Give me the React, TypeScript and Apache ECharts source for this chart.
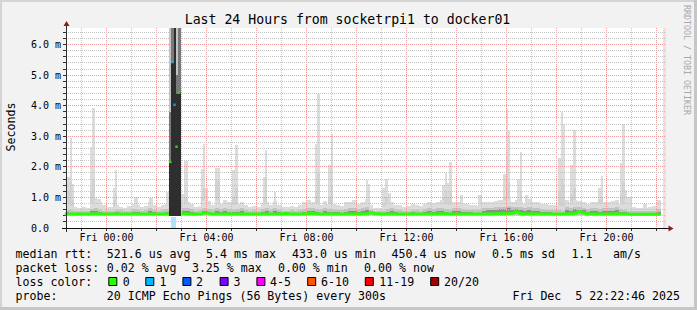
import React, { useEffect, useRef } from 'react';
import * as echarts from 'echarts';

// ---------- axes (hours relative to Fri 00:00, milliseconds on y) ----------
const X_MIN = -1.621; // Thu 22:22:46
const X_MAX = 22.379; // Fri 22:22:46
const Y_MAX = 6.545;
const NOW_BAND_START = 22.26;
const xLabelHours = [0, 4, 8, 12, 16, 20];
const hourGrid = [-1, 0, 1, 2, 3, 4, 5, 6, 7, 8, 9, 10, 11, 12, 13, 14, 15, 16, 17, 18, 19, 20, 21, 22];
const yLabels = [0, 1, 2, 3, 4, 5, 6];
const yGrid = [0.2, 0.4, 0.6, 0.8, 1, 1.2, 1.4, 1.6, 1.8, 2, 2.2, 2.4, 2.6, 2.8, 3, 3.2, 3.4, 3.6, 3.8, 4, 4.2, 4.4, 4.6, 4.8, 5, 5.2, 5.4, 5.6, 5.8, 6, 6.2, 6.4];

// ---------- base smoke, 10-minute steps starting Thu 22:20 ----------
const BASE_START_HOUR = -5 / 3;
const BASE_STEP_HOURS = 1 / 6;
const SMOKE_FLOOR = 0.4;
const baseHi = [
  0.78, 0.72, 0.68, 0.64, 0.70, 0.66, 0.82, 0.90, 0.84, 0.74,
  0.70, 0.68, 0.76, 0.70, 0.66, 0.72, 0.80, 0.74, 0.70, 0.72,
  0.84, 0.76, 0.70, 0.74, 0.80, null, null, null, 0.82, 0.86,
  0.78, 0.70, 0.72, 0.90, 0.86, 0.74, 0.90, 0.80, 0.92, 0.84,
  0.76, 0.80, 0.86, 0.74, 0.70, 0.72, 0.68, 0.82, 0.86, 0.74,
  0.88, 0.76, 0.70, 0.68, 0.72, 0.70, 0.74, 0.84, 0.90, 0.86,
  0.82, 0.74, 0.88, 0.80, 0.78, 0.76, 0.72, 0.84, 0.86, 0.92,
  0.80, 0.84, 0.94, 0.76, 0.66, 0.64, 0.72, 0.82, 0.86, 0.76,
  0.74, 0.70, 0.72, 0.78, 0.74, 0.72, 0.80, 0.84, 0.82, 0.86,
  0.90, 0.80, 0.74, 0.86, 0.84, 0.82, 0.78, 0.76, 0.74, 0.72,
  0.84, 0.86, 0.84, 0.88, 0.92, 0.90, 0.94, 0.86, 0.92, 0.88,
  0.80, 0.96, 0.86, 0.84, 0.80, 0.78, 0.76, 0.74, 0.72, 0.70,
  0.90, 0.86, 0.92, 0.88, 0.84, 0.80, 0.86, 0.84, 0.82, 0.86,
  0.84, 0.88, 0.92, 0.80, 0.78, 0.72, 0.68, 0.66, 0.64, 0.66,
  0.70, 0.72, 0.90,
];
const baseMid = [
  0.60, 0.58, 0.56, 0.55, 0.57, 0.56, 0.62, 0.64, 0.60, 0.57,
  0.56, 0.55, 0.60, 0.58, 0.56, 0.57, 0.62, 0.60, 0.56, 0.58,
  0.64, 0.60, 0.57, 0.58, 0.62, null, null, null, 0.64, 0.66,
  0.62, 0.57, 0.58, 0.64, 0.62, 0.58, 0.66, 0.62, 0.66, 0.62,
  0.60, 0.62, 0.64, 0.58, 0.56, 0.58, 0.56, 0.62, 0.64, 0.58,
  0.64, 0.60, 0.56, 0.55, 0.58, 0.57, 0.58, 0.62, 0.66, 0.64,
  0.62, 0.58, 0.64, 0.62, 0.60, 0.60, 0.58, 0.62, 0.64, 0.66,
  0.62, 0.64, 0.68, 0.60, 0.57, 0.55, 0.57, 0.62, 0.64, 0.60,
  0.58, 0.56, 0.57, 0.60, 0.58, 0.57, 0.62, 0.64, 0.62, 0.64,
  0.66, 0.62, 0.58, 0.64, 0.64, 0.62, 0.60, 0.60, 0.58, 0.58,
  0.64, 0.66, 0.66, 0.68, 0.70, 0.70, 0.72, 0.68, 0.70, 0.68,
  0.64, 0.70, 0.66, 0.64, 0.62, 0.60, 0.60, 0.58, 0.58, 0.57,
  0.68, 0.66, 0.70, 0.68, 0.66, 0.62, 0.66, 0.64, 0.62, 0.64,
  0.64, 0.66, 0.68, 0.62, 0.60, 0.57, 0.56, 0.55, 0.54, 0.55,
  0.56, 0.57, 0.62,
];
const baseDark = [
  0.52, 0.50, 0.49, 0.49, 0.50, 0.49, 0.54, 0.55, 0.52, 0.50,
  0.49, 0.49, 0.52, 0.50, 0.49, 0.50, 0.53, 0.52, 0.49, 0.50,
  0.54, 0.52, 0.50, 0.50, 0.53, null, null, null, 0.54, 0.55,
  0.52, 0.50, 0.50, 0.55, 0.53, 0.50, 0.56, 0.52, 0.55, 0.52,
  0.51, 0.52, 0.54, 0.50, 0.49, 0.50, 0.49, 0.52, 0.55, 0.50,
  0.54, 0.51, 0.49, 0.49, 0.50, 0.49, 0.50, 0.52, 0.56, 0.54,
  0.52, 0.50, 0.54, 0.52, 0.51, 0.51, 0.50, 0.52, 0.54, 0.56,
  0.52, 0.54, 0.58, 0.51, 0.49, 0.48, 0.49, 0.52, 0.54, 0.51,
  0.50, 0.49, 0.49, 0.51, 0.50, 0.49, 0.52, 0.54, 0.52, 0.54,
  0.56, 0.52, 0.50, 0.54, 0.54, 0.52, 0.51, 0.51, 0.50, 0.50,
  0.56, 0.58, 0.58, 0.60, 0.62, 0.62, 0.64, 0.60, 0.62, 0.58,
  0.54, 0.60, 0.56, 0.54, 0.52, 0.51, 0.51, 0.50, 0.50, 0.50,
  0.58, 0.57, 0.62, 0.60, 0.58, 0.53, 0.56, 0.54, 0.52, 0.54,
  0.54, 0.56, 0.58, 0.52, 0.51, 0.49, 0.49, 0.48, 0.48, 0.48,
  0.49, 0.49, 0.52,
];
const baseMedian = [
  0.46, 0.46, 0.455, 0.455, 0.46, 0.46, 0.47, 0.465, 0.46, 0.455,
  0.455, 0.455, 0.46, 0.46, 0.455, 0.455, 0.46, 0.46, 0.455, 0.455,
  0.46, 0.46, 0.455, 0.455, 0.46, null, null, null, 0.465, 0.46,
  0.46, 0.455, 0.455, 0.49, 0.47, 0.46, 0.46, 0.46, 0.465, 0.46,
  0.46, 0.46, 0.465, 0.455, 0.455, 0.455, 0.455, 0.46, 0.46, 0.455,
  0.46, 0.46, 0.48, 0.465, 0.455, 0.455, 0.455, 0.46, 0.48, 0.465,
  0.46, 0.455, 0.46, 0.46, 0.455, 0.455, 0.455, 0.46, 0.46, 0.465,
  0.46, 0.465, 0.47, 0.50, 0.465, 0.455, 0.455, 0.46, 0.46, 0.455,
  0.455, 0.455, 0.455, 0.46, 0.455, 0.455, 0.46, 0.46, 0.46, 0.465,
  0.47, 0.465, 0.455, 0.46, 0.46, 0.46, 0.455, 0.455, 0.455, 0.455,
  0.46, 0.46, 0.465, 0.465, 0.47, 0.47, 0.48, 0.49, 0.53, 0.47,
  0.46, 0.47, 0.465, 0.46, 0.455, 0.455, 0.455, 0.455, 0.455, 0.455,
  0.47, 0.465, 0.48, 0.53, 0.49, 0.46, 0.465, 0.46, 0.46, 0.46,
  0.46, 0.465, 0.47, 0.46, 0.455, 0.45, 0.45, 0.45, 0.45, 0.45,
  0.455, 0.45, 0.45,
];

// ---------- narrow max-ping spikes: [startHour, endHour, top, lowerShadeTop] ----------
const spikes = [
  [-1.62, -1.46, 1.68, 1.2], [-1.46, -1.38, 2.93, 1.5], [-1.38, -1.30, 1.43, 0.9],
  [-0.66, -0.58, 2.66, 1.2], [-0.58, -0.46, 3.94, 1.6], [-0.46, -0.38, 0.97, 0], [-0.38, -0.22, 0.95, 0],
  [0.25, 0.33, 1.30, 0.9], [0.33, 0.42, 1.9, 1.1], [1.1, 1.26, 1.03, 0], [1.71, 1.87, 0.99, 0],
  [2.38, 2.51, 1.19, 0.8], [2.94, 3.11, 1.1, 0], [3.11, 3.25, 2.19, 1.0],
  [3.78, 3.87, 1.93, 1.0], [3.87, 3.95, 2.75, 1.3], [3.95, 4.05, 1.3, 0.8], [4.05, 4.18, 0.88, 0],
  [4.34, 4.54, 1.97, 1.57], [5.02, 5.14, 1.9, 1.0], [5.14, 5.26, 2.72, 1.3],
  [6.25, 6.34, 1.68, 1.0], [6.34, 6.43, 2.55, 1.68], [6.70, 6.78, 1.19, 0.8],
  [8.34, 8.43, 2.74, 1.2], [8.43, 8.54, 4.39, 1.8], [8.87, 8.97, 2.06, 1.0], [8.97, 9.05, 3.07, 1.4],
  [10.38, 10.46, 1.57, 0.9], [10.46, 10.54, 1.43, 0.9],
  [11.0, 11.14, 1.3, 0.8], [11.14, 11.26, 1.6, 1.0], [11.26, 11.38, 1.13, 0],
  [13.41, 13.54, 1.41, 1.0], [13.54, 13.63, 1.81, 1.2], [13.63, 13.71, 1.46, 1.0], [13.71, 13.82, 2.17, 1.2],
  [14.14, 14.25, 1.08, 0], [14.87, 15.01, 1.08, 0],
  [15.87, 15.97, 1.76, 1.0], [15.97, 16.05, 3.89, 2.5], [16.05, 16.14, 3.17, 1.5],
  [16.41, 16.54, 1.6, 0.9], [16.54, 16.63, 2.5, 1.2], [16.74, 16.87, 1.08, 0],
  [18.07, 18.17, 2.28, 1.2], [18.17, 18.25, 3.81, 1.6], [18.25, 18.34, 3.39, 1.4],
  [18.54, 18.65, 2.06, 1.1], [18.65, 18.78, 3.2, 1.3],
  [19.67, 19.77, 1.32, 0.9], [19.77, 19.87, 1.71, 1.0],
  [20.54, 20.63, 2.12, 1.1], [20.63, 20.74, 3.39, 1.5], [20.74, 20.83, 1.24, 0.8], [20.83, 21.01, 1.03, 0],
  [21.47, 21.63, 0.8, 0],
];

// ---------- 02:30 - 03:00 outage, 5-minute steps ----------
const eventEdges = [2.51, 2.59, 2.68, 2.76, 2.84, 2.97];
const eventLight = [6.6, 6.6, 6.6, 6.6, 6.6];
const eventMid = [3.8, 6.6, 6.6, 5.0, 6.6];
const eventDark = [2.2, 5.4, 6.6, 4.4, 4.45];
const eventMedian = [2.16, 5.43, 4.03, 2.66, 4.43];
const eventLoss = [0, 1, 1, 0, 0];
const LOSS_BAR_TOP = 0.37;

// ---------- legend ----------
const lossLabels = ['0', '1', '2', '3', '4-5', '6-10', '11-19', '20/20'];
const lossColors = ['#26ff00', '#00b8ff', '#0059ff', '#7e00ff', '#ff00ff', '#ff5500', '#ff0000', '#a10000'];
const lossTints = ['#c8ffbf', '#aee4fb', '#b0c8ff', '#d6b0ff', '#ffb0ff', '#ffccaa', '#ffb0b0', '#e0a0a0'];
const rttStats = ['521.6 us avg', '5.4 ms max', '433.0 us min', '450.4 us now', '0.5 ms sd', '1.1', 'am/s'];
const lossStats = ['0.02 % avg', '3.25 % max', '0.00 % min', '0.00 % now'];
const TITLE = 'Last 24 Hours from socketrpi1 to docker01';
const PROBE = '20 ICMP Echo Pings (56 Bytes) every 300s';
const STAMP = 'Fri Dec\u00a0\u00a05 22:22:46 2025';

const FONT = "'DejaVu Sans Mono', 'Liberation Mono', monospace";
const LIGHT = '#dcdcdc';
const SPIKE_LOW = '#d2d2d2';
const MID = '#c2c2c2';
const DARK = '#8e8e8e';
const GRID_MINOR = '#c4c4c4';
const GRID_MAJOR = '#f29a9a';
const AXIS_COLOR = '#303030';

function band(api: any, h0: number, h1: number, v0: number, v1: number, fill: string) {
  const a = api.coord([h0, v1]);
  const b = api.coord([h1, v0]);
  const x0 = Math.round(a[0]);
  const x1 = Math.round(b[0]);
  const y0 = Math.round(a[1]);
  const y1 = Math.round(b[1]);
  return {
    type: 'rect',
    shape: { x: x0, y: y0, width: Math.max(0, x1 - x0), height: Math.max(0, y1 - y0) },
    style: { fill },
  };
}

// kinds: 0 vertical minor, 1 vertical major, 2 horizontal minor, 3 horizontal major,
//        4 x tick, 5 y tick, 6 "now" band
function gridItem(params: any, api: any) {
  const kind = api.value(0);
  const v = api.value(1);
  const cs = params.coordSys;
  const dash = { lineDash: [1, 1], lineWidth: 1 };
  if (kind === 0 || kind === 1) {
    const x = Math.floor(api.coord([v, 0])[0]) + 0.5;
    return {
      type: 'line',
      shape: { x1: x, y1: cs.y, x2: x, y2: cs.y + cs.height },
      style: { stroke: kind === 1 ? GRID_MAJOR : GRID_MINOR, ...dash },
    };
  }
  if (kind === 2 || kind === 3) {
    const y = Math.floor(api.coord([X_MIN, v])[1]) + 0.5;
    return {
      type: 'line',
      shape: { x1: cs.x, y1: y, x2: cs.x + cs.width, y2: y },
      style: { stroke: kind === 3 ? GRID_MAJOR : GRID_MINOR, ...dash },
    };
  }
  if (kind === 4) {
    const x = Math.floor(api.coord([v, 0])[0]) + 0.5;
    const y = cs.y + cs.height;
    return { type: 'line', shape: { x1: x, y1: y + 1, x2: x, y2: y + 3 }, style: { stroke: AXIS_COLOR, lineWidth: 1 } };
  }
  if (kind === 5) {
    const y = Math.floor(api.coord([X_MIN, v])[1]) + 0.5;
    return { type: 'line', shape: { x1: cs.x - 3, y1: y, x2: cs.x, y2: y }, style: { stroke: AXIS_COLOR, lineWidth: 1 } };
  }
  const x = Math.round(api.coord([v, 0])[0]);
  return {
    type: 'rect',
    shape: { x, y: cs.y, width: cs.x + cs.width - x, height: cs.height + 2 },
    style: { fill: '#fbdada' },
  };
}

function buildOption() {
  const baseData: number[][] = [];
  const medianLine: any[] = [];
  for (let k = 0; k < baseHi.length; k++) {
    const h0 = BASE_START_HOUR + k * BASE_STEP_HOURS;
    const h1 = h0 + BASE_STEP_HOURS;
    const m = baseMedian[k];
    if (baseHi[k] == null || m == null) {
      medianLine.push([h0, '-']);
      continue;
    }
    baseData.push([h0, h1, baseHi[k] as number, baseMid[k] as number, baseDark[k] as number, m]);
    medianLine.push([h0, m]);
    medianLine.push([h1, m]);
  }

  const eventData = eventLight.map((v, i) => [eventEdges[i], eventEdges[i + 1], v, eventMid[i], eventDark[i], eventLoss[i]]);
  const eventPoints = eventMedian.map((v, i) => [(eventEdges[i] + eventEdges[i + 1]) / 2, v, eventLoss[i]]);

  const gridData: number[][] = [[6, NOW_BAND_START]];
  hourGrid.forEach((h) => gridData.push([h % 2 === 0 ? 1 : 0, h]));
  yGrid.forEach((v) => gridData.push([Math.abs(v - Math.round(v)) < 1e-6 ? 3 : 2, v]));
  hourGrid.forEach((h) => gridData.push([4, h]));
  yGrid.forEach((v) => gridData.push([5, v]));

  const text = (x: number, y: number, t: string, extra: any = {}) => ({
    type: 'text',
    x,
    y,
    z: 100,
    silent: true,
    style: { text: t, fontFamily: FONT, fontSize: 11.6, fill: '#000', align: 'left', verticalAlign: 'middle', ...extra },
  });

  const rttX = [106.8, 206.1, 292.1, 391.5, 492.1, 571.5, 613];
  const lossX = [106.8, 191.9, 277.9, 364.1];
  const boxX = [108.3, 145.3, 182.4, 219.6, 256.4, 307.2, 364.8, 430.2];
  const boxLabelX = [122.8, 159.4, 196.1, 233.5, 270.1, 321, 379.3, 444];

  const graphic: any[] = [
    // frame
    { type: 'rect', z: 100, silent: true, shape: { x: 0, y: 0, width: 697, height: 2 }, style: { fill: '#d4d4d4' } },
    { type: 'rect', z: 100, silent: true, shape: { x: 0, y: 0, width: 2, height: 310 }, style: { fill: '#d4d4d4' } },
    { type: 'rect', z: 100, silent: true, shape: { x: 694, y: 0, width: 3, height: 310 }, style: { fill: '#c6c6c6' } },
    { type: 'rect', z: 100, silent: true, shape: { x: 0, y: 307, width: 697, height: 3 }, style: { fill: '#c6c6c6' } },
    // axes
    { type: 'line', z: 100, silent: true, shape: { x1: 66.5, y1: 232, x2: 66.5, y2: 25 }, style: { stroke: AXIS_COLOR, lineWidth: 1 } },
    { type: 'line', z: 100, silent: true, shape: { x1: 62, y1: 228.5, x2: 669, y2: 228.5 }, style: { stroke: '#101010', lineWidth: 1 } },
    { type: 'polygon', z: 101, silent: true, shape: { points: [[63.5, 26], [69.5, 26], [66.5, 21]] }, style: { fill: '#8a1c1c' } },
    { type: 'polygon', z: 101, silent: true, shape: { points: [[668.5, 225.5], [668.5, 231.5], [673.5, 228.5]] }, style: { fill: '#8a1c1c' } },
    // title, unit, watermark
    text(347.5, 19.3, TITLE, { fontSize: 13.2, align: 'center' }),
    { ...text(11, 127, 'Seconds', { align: 'center' }), rotation: Math.PI / 2 },
    { ...text(687, 60, 'RRDTOOL / TOBI OETIKER', { align: 'center', fontSize: 8.3, fill: '#a8a8a8' }), rotation: -Math.PI / 2 },
    // legend lines
    text(15.5, 254, 'median rtt:'),
    ...rttStats.map((t, i) => text(rttX[i], 254, t)),
    text(15.5, 268.3, 'packet loss:'),
    ...lossStats.map((t, i) => text(lossX[i], 268.3, t)),
    text(15.5, 281.7, 'loss color:'),
    ...lossLabels.map((t, i) => text(boxLabelX[i], 281.7, t)),
    ...lossColors.map((c, i) => ({
      type: 'rect', z: 100, silent: true,
      shape: { x: boxX[i] + 0.5, y: 277.5, width: 8, height: 8 },
      style: { fill: c, stroke: '#000', lineWidth: 1 },
    })),
    text(15.5, 296, 'probe:'),
    text(106.8, 296, PROBE),
    text(680, 296, STAMP, { align: 'right' }),
  ];

  return {
    animation: false,
    backgroundColor: '#f2f2f2',
    grid: { left: 66, right: 31, top: 28, bottom: 82, show: true, backgroundColor: '#ffffff', borderWidth: 0 },
    xAxis: {
      type: 'value',
      min: X_MIN,
      max: X_MAX,
      axisLine: { show: false, onZero: false },
      splitLine: { show: false },
      axisTick: { show: false },
      axisLabel: {
        customValues: xLabelHours,
        formatter: (v: number) => `Fri ${String(Math.round(v)).padStart(2, '0')}:00`,
        fontFamily: FONT,
        fontSize: 10,
        color: '#000',
        margin: 4,
      },
    },
    yAxis: {
      type: 'value',
      min: 0,
      max: Y_MAX,
      axisLine: { show: false, onZero: false },
      splitLine: { show: false },
      axisTick: { show: false },
      axisLabel: {
        customValues: yLabels,
        formatter: (v: number) => (Math.abs(v) < 1e-9 ? '0.0\u00a0\u00a0' : `${v.toFixed(1)} m`),
        fontFamily: FONT,
        fontSize: 10,
        color: '#000',
        margin: 5,
      },
    },
    graphic,
    series: [
      {
        type: 'custom',
        name: 'spikes',
        clip: true,
        silent: true,
        data: spikes,
        encode: { x: [0, 1], y: [2, 3] },
        renderItem: (_p: any, api: any) => {
          const h0 = api.value(0), h1 = api.value(1), top = api.value(2), low = api.value(3);
          const children: any[] = [band(api, h0, h1, SMOKE_FLOOR, top, LIGHT)];
          if (low > 0) children.push(band(api, h0, h1, SMOKE_FLOOR, low, SPIKE_LOW));
          return { type: 'group', children };
        },
      },
      {
        type: 'custom',
        name: 'smoke',
        clip: true,
        silent: true,
        data: baseData,
        encode: { x: [0, 1], y: [2, 3, 4, 5] },
        renderItem: (_p: any, api: any) => {
          const h0 = api.value(0), h1 = api.value(1);
          const hi = api.value(2), mid = api.value(3), dark = api.value(4), med = api.value(5);
          return {
            type: 'group',
            children: [
              band(api, h0, h1, SMOKE_FLOOR, hi, LIGHT),
              band(api, h0, h1, SMOKE_FLOOR + 0.02, mid, MID),
              band(api, h0, h1, med - 0.02, dark, DARK),
            ],
          };
        },
      },
      {
        type: 'custom',
        name: 'grid',
        clip: false,
        silent: true,
        data: gridData,
        encode: { x: 1, y: 1 },
        renderItem: gridItem,
      },
      {
        type: 'custom',
        name: 'outage',
        clip: true,
        silent: true,
        data: eventData,
        encode: { x: [0, 1], y: [2, 3, 4] },
        renderItem: (_p: any, api: any) => {
          const h0 = api.value(0), h1 = api.value(1);
          const light = api.value(2), mid = api.value(3), dark = api.value(4), loss = api.value(5);
          const children: any[] = [];
          if (loss > 0) children.push(band(api, h0, h1, 0, LOSS_BAR_TOP, lossTints[loss]));
          children.push(band(api, h0, h1, SMOKE_FLOOR, light, '#c4c4c4'));
          children.push(band(api, h0, h1, SMOKE_FLOOR, mid, '#7a7a7a'));
          children.push(band(api, h0, h1, SMOKE_FLOOR, dark, '#2e2e2e'));
          return { type: 'group', children };
        },
      },
      {
        type: 'line',
        name: 'median',
        data: medianLine,
        symbol: 'none',
        silent: true,
        connectNulls: false,
        lineStyle: { color: lossColors[0], width: 3 },
        z: 4,
      },
      {
        type: 'scatter',
        name: 'median outage',
        data: eventPoints,
        symbol: 'rect',
        symbolSize: 2.5,
        silent: true,
        itemStyle: { color: (p: any) => lossColors[p.data[2]] },
        z: 5,
      },
    ],
  };
}

export default function App() {
  const ref = useRef<HTMLDivElement>(null);
  useEffect(() => {
    document.body.style.margin = '0';
    if (!ref.current) return;
    const chart = echarts.init(ref.current, undefined, { renderer: 'svg' });
    chart.setOption(buildOption() as any);
    return () => chart.dispose();
  }, []);
  return <div ref={ref} style={{ width: 697, height: 310 }} />;
}
